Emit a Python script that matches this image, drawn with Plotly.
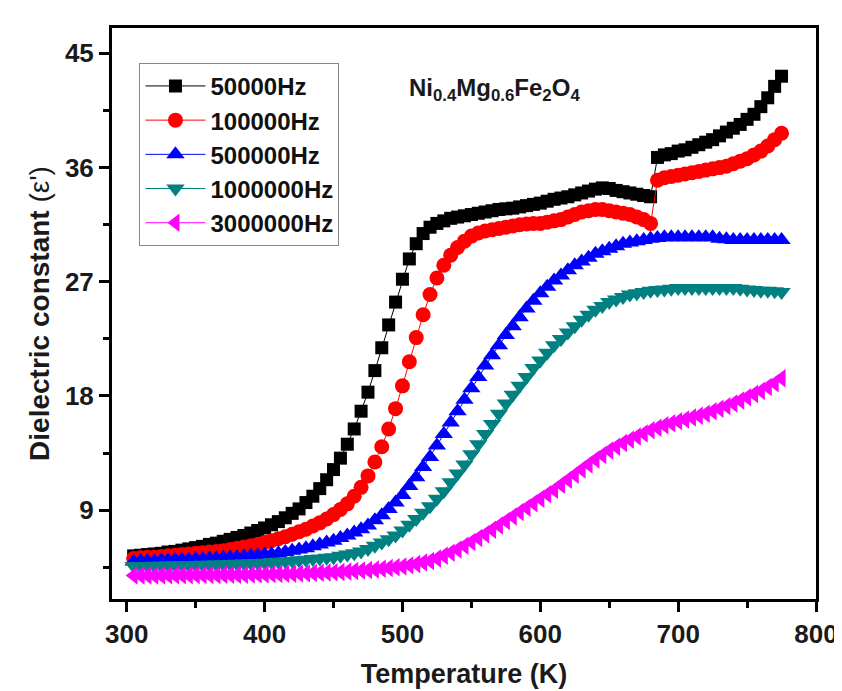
import plotly.graph_objects as go

temperature = [305, 310, 315, 320, 325, 330, 335, 340, 345, 350,
               355, 360, 365, 370, 375, 380, 385, 390, 395, 400,
               405, 410, 415, 420, 425, 430, 435, 440, 445, 450,
               455, 460, 465, 470, 475, 480, 485, 490, 495, 500,
               505, 510, 515, 520, 525, 530, 535, 540, 545, 550,
               555, 560, 565, 570, 575, 580, 585, 590, 595, 600,
               605, 610, 615, 620, 625, 630, 635, 640, 645, 650,
               655, 660, 665, 670, 675, 680, 685, 690, 695, 700,
               705, 710, 715, 720, 725, 730, 735, 740, 745, 750,
               755, 760, 765, 770, 775]

eps_50k = [5.4, 5.45, 5.5, 5.55, 5.6, 5.7, 5.75, 5.85, 5.95, 6.05,
           6.15, 6.3, 6.4, 6.55, 6.7, 6.85, 7.0, 7.2, 7.4, 7.6,
           7.85, 8.1, 8.4, 8.75, 9.1, 9.6, 10.1, 10.7, 11.4, 12.2,
           13.1, 14.2, 15.4, 16.8, 18.3, 20.0, 21.8, 23.6, 25.4, 27.2,
           28.8, 30.0, 30.8, 31.3, 31.6, 31.8, 32.0, 32.1, 32.2, 32.3,
           32.4, 32.5, 32.6, 32.7, 32.75, 32.8, 32.9, 33.0, 33.1, 33.2,
           33.35, 33.5, 33.6, 33.7, 33.85, 34.0, 34.15, 34.3, 34.4, 34.35,
           34.2, 34.1, 34.0, 33.9, 33.8, 33.7, 36.8, 37.0, 37.1, 37.3,
           37.4, 37.6, 37.8, 38.0, 38.2, 38.5, 38.8, 39.1, 39.4, 39.8,
           40.2, 40.8, 41.5, 42.4, 43.2]

eps_100k = [5.2, 5.25, 5.3, 5.3, 5.35, 5.4, 5.45, 5.5, 5.55, 5.6,
            5.65, 5.7, 5.75, 5.8, 5.9, 6.0, 6.1, 6.2, 6.3, 6.45,
            6.6, 6.75, 6.9, 7.1, 7.3, 7.5, 7.75, 8.0, 8.3, 8.65,
            9.05, 9.5, 10.1, 10.8, 11.7, 12.8, 14.0, 15.4, 17.0, 18.8,
            20.7, 22.6, 24.4, 26.0, 27.3, 28.3, 29.1, 29.7, 30.2, 30.6,
            30.85, 31.0, 31.1, 31.2, 31.3, 31.4, 31.5, 31.55, 31.6, 31.6,
            31.7, 31.8, 31.9, 32.1, 32.3, 32.5, 32.6, 32.7, 32.7, 32.6,
            32.5, 32.4, 32.3, 32.1, 31.9, 31.6, 35.0, 35.2, 35.3, 35.4,
            35.5, 35.6, 35.7, 35.8, 35.9, 36.0, 36.1, 36.3, 36.5, 36.7,
            37.0, 37.3, 37.7, 38.2, 38.7]

eps_500k = [4.95, 5.0, 5.0, 5.0, 5.05, 5.05, 5.1, 5.1, 5.1, 5.15,
            5.15, 5.2, 5.2, 5.25, 5.3, 5.3, 5.35, 5.4, 5.45, 5.5,
            5.55, 5.6, 5.7, 5.8, 5.9, 6.0, 6.15, 6.3, 6.45, 6.6,
            6.8, 7.0, 7.25, 7.5, 7.8, 8.2, 8.6, 9.1, 9.6, 10.2,
            10.9, 11.6, 12.4, 13.2, 14.1, 15.0, 15.9, 16.8, 17.7, 18.6,
            19.5, 20.4, 21.2, 22.0, 22.8, 23.5, 24.2, 24.9, 25.5, 26.1,
            26.6, 27.1, 27.5, 27.9, 28.3, 28.6, 28.9, 29.2, 29.4, 29.6,
            29.8, 30.0, 30.1, 30.2, 30.3, 30.4, 30.45, 30.5, 30.5, 30.5,
            30.5, 30.5, 30.5, 30.5, 30.5, 30.4, 30.35, 30.3, 30.3, 30.3,
            30.3, 30.3, 30.3, 30.3, 30.3]

eps_1m = [4.6, 4.6, 4.6, 4.62, 4.62, 4.64, 4.64, 4.66, 4.66, 4.68,
          4.7, 4.7, 4.72, 4.74, 4.76, 4.78, 4.8, 4.82, 4.84, 4.86,
          4.9, 4.94, 4.98, 5.02, 5.06, 5.1, 5.15, 5.2, 5.25, 5.3,
          5.4, 5.5, 5.6, 5.75, 5.95, 6.2, 6.45, 6.7, 7.0, 7.4,
          7.85, 8.3, 8.8, 9.3, 9.9, 10.5, 11.2, 11.9, 12.6, 13.4,
          14.2, 15.0, 15.8, 16.6, 17.4, 18.1, 18.8, 19.5, 20.2, 20.8,
          21.4, 22.0, 22.5, 23.0, 23.5, 24.0, 24.4, 24.8, 25.1, 25.4,
          25.6, 25.8, 26.0, 26.1, 26.2, 26.3, 26.35, 26.4, 26.45, 26.5,
          26.5, 26.5, 26.5, 26.5, 26.5, 26.5, 26.5, 26.5, 26.45, 26.4,
          26.35, 26.3, 26.3, 26.25, 26.2]

eps_3m = [3.85, 3.85, 3.85, 3.86, 3.86, 3.87, 3.87, 3.88, 3.88, 3.89,
          3.89, 3.9, 3.9, 3.91, 3.91, 3.92, 3.92, 3.93, 3.94, 3.95,
          3.96, 3.97, 3.98, 3.99, 4.0, 4.02, 4.04, 4.06, 4.08, 4.1,
          4.13, 4.16, 4.2, 4.24, 4.28, 4.33, 4.38, 4.44, 4.5, 4.56,
          4.65, 4.75, 4.87, 5.0, 5.2, 5.4, 5.65, 5.9, 6.2, 6.5,
          6.8, 7.1, 7.45, 7.8, 8.15, 8.5, 8.85, 9.2, 9.55, 9.9,
          10.25, 10.6, 11.0, 11.4, 11.8, 12.2, 12.6, 13.0, 13.35, 13.7,
          14.0, 14.3, 14.55, 14.8, 15.05, 15.3, 15.5, 15.7, 15.85, 16.0,
          16.15, 16.3, 16.45, 16.6, 16.8, 17.0, 17.2, 17.4, 17.65, 17.9,
          18.15, 18.4, 18.7, 19.0, 19.4]

series_names = ["50000Hz", "100000Hz", "500000Hz", "1000000Hz", "3000000Hz"]
series_values = [eps_50k, eps_100k, eps_500k, eps_1m, eps_3m]
series_colors = ["#000000", "#FF0000", "#0000FF", "#008080", "#FF00FF"]
series_symbols = ["square", "circle", "triangle-up", "triangle-down", "triangle-left"]
series_sizes = [13, 15, 16, 16, 16]

x_ticks = [300, 400, 500, 600, 700, 800]
x_minor = [350, 450, 550, 650, 750]
y_ticks = [9, 18, 27, 36, 45]
y_minor = [4.5, 13.5, 22.5, 31.5, 40.5]

FONT = "Arial, Liberation Sans, sans-serif"
TXT = "#1a1a1a"

fig = go.Figure()
for name, vals, col, sym, sz in zip(series_names, series_values, series_colors,
                                    series_symbols, series_sizes):
    fig.add_trace(go.Scatter(
        x=temperature, y=vals, name="<b>" + name + "</b>", mode="lines+markers",
        line=dict(color=col, width=1),
        marker=dict(symbol=sym, size=sz, color=col, line=dict(width=0)),
    ))

axis_common = dict(
    showline=True, linewidth=3, linecolor="black", mirror=True,
    ticks="outside", ticklen=10, tickwidth=3, tickcolor="black",
    showgrid=False, zeroline=False,
    tickfont=dict(family=FONT, size=26, color=TXT),
)

fig.update_xaxes(
    range=[289.3, 800], tickvals=x_ticks, ticktext=["<b>%d</b>" % v for v in x_ticks],
    minor=dict(tickvals=x_minor, ticks="outside", ticklen=6, tickwidth=3, tickcolor="black"),
    title=dict(text="<b>Temperature (K)</b>", font=dict(family=FONT, size=27, color=TXT),
               standoff=16),
    **axis_common,
)
fig.update_yaxes(
    range=[2.0, 47.0], tickvals=y_ticks, ticktext=["<b>%d</b>" % v for v in y_ticks],
    minor=dict(tickvals=y_minor, ticks="outside", ticklen=6, tickwidth=3, tickcolor="black"),
    title=dict(text="<b>Dielectric constant </b>(ε')", font=dict(family=FONT, size=28, color=TXT),
               standoff=8),
    **axis_common,
)

fig.add_annotation(
    x=0.544, y=0.893, xref="paper", yref="paper", xanchor="center", yanchor="middle",
    text="<b>Ni<sub>0.4</sub>Mg<sub>0.6</sub>Fe<sub>2</sub>O<sub>4</sub></b>",
    showarrow=False, font=dict(family=FONT, size=24, color=TXT),
)

fig.update_layout(
    width=842, height=691,
    margin=dict(l=104, r=25, t=20, b=100),
    paper_bgcolor="white", plot_bgcolor="white",
    font=dict(family=FONT, size=20, color=TXT),
    showlegend=True,
    legend=dict(
        x=0.039, y=0.939, xanchor="left", yanchor="top",
        bgcolor="white", bordercolor="#888888", borderwidth=1,
        font=dict(family=FONT, size=24, color="#111111"),
        itemwidth=60, tracegroupgap=0,
    ),
)

fig.write_html("out.html")
